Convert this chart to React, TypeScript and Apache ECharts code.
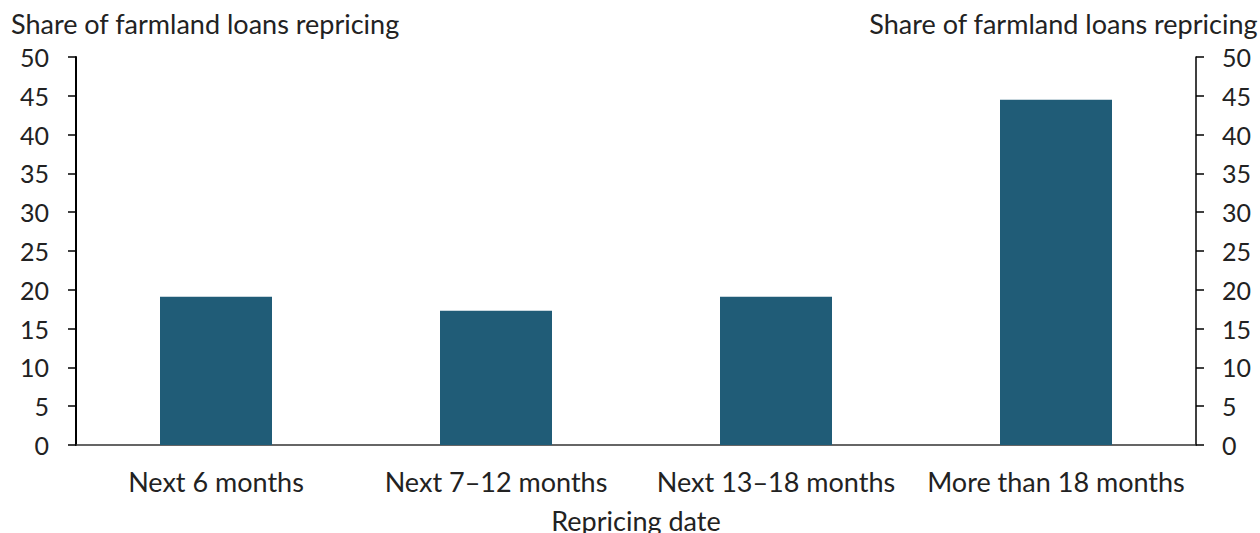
import React, { useEffect, useRef } from "react";
import * as echarts from "echarts";

const categories = ["Next 6 months", "Next 7–12 months", "Next 13–18 months", "More than 18 months"];
const shareValues = [19.1, 17.3, 19.1, 44.5];
const axisTitle = "Share of farmland loans repricing";
const xAxisTitle = "Repricing date";

const FONT = "Lato, 'Open Sans', sans-serif";
const TEXT_COLOR = "#222222";

export default function App() {
  const ref = useRef<HTMLDivElement>(null);
  useEffect(() => {
    if (!ref.current) return;
    const chart = echarts.init(ref.current, null, { renderer: "svg" });
    const yAxisCommon = {
      type: "value" as const,
      min: 0,
      max: 50,
      interval: 5,
      splitLine: { show: false },
      axisLine: { show: true, lineStyle: { color: "#000", width: 2 } },
      axisTick: { show: true, length: 8, lineStyle: { color: "#000", width: 1.5 } },
      axisLabel: { color: TEXT_COLOR, fontSize: 25, fontFamily: FONT, margin: 27 },
    };
    chart.setOption({
      animation: false,
      textStyle: { fontFamily: FONT },
      grid: { left: 76, right: 64, top: 57, bottom: 88, containLabel: false, outerBoundsMode: "none" },
      graphic: [
        {
          type: "text",
          left: 11,
          top: 10,
          style: { text: axisTitle, fontSize: 27, fontFamily: FONT, fill: TEXT_COLOR },
        },
        {
          type: "text",
          right: 2,
          top: 10,
          style: { text: axisTitle, fontSize: 27, fontFamily: FONT, fill: TEXT_COLOR },
        },
      ],
      xAxis: {
        type: "category",
        data: categories,
        name: xAxisTitle,
        nameLocation: "middle",
        nameGap: 62,
        nameTextStyle: { color: TEXT_COLOR, fontSize: 27, fontFamily: FONT },
        axisLine: { show: true, lineStyle: { color: "#333", width: 1.5 } },
        axisTick: { show: false },
        axisLabel: { color: TEXT_COLOR, fontSize: 27, fontFamily: FONT, margin: 23, interval: 0 },
      },
      yAxis: [
        { ...yAxisCommon, position: "left" },
        {
          ...yAxisCommon,
          position: "right",
          axisLine: { show: true, lineStyle: { color: "#000", width: 1.5 } },
          axisLabel: { ...yAxisCommon.axisLabel, margin: 26 },
        },
      ],
      series: [
        {
          type: "bar",
          data: shareValues,
          yAxisIndex: 0,
          barWidth: "40%",
          itemStyle: { color: "#205C77" },
        },
      ],
    });
    return () => chart.dispose();
  }, []);
  return (
    <div
      ref={ref}
      style={{ position: "fixed", left: 0, top: 0, width: 1260, height: 533, background: "#fff" }}
    />
  );
}
